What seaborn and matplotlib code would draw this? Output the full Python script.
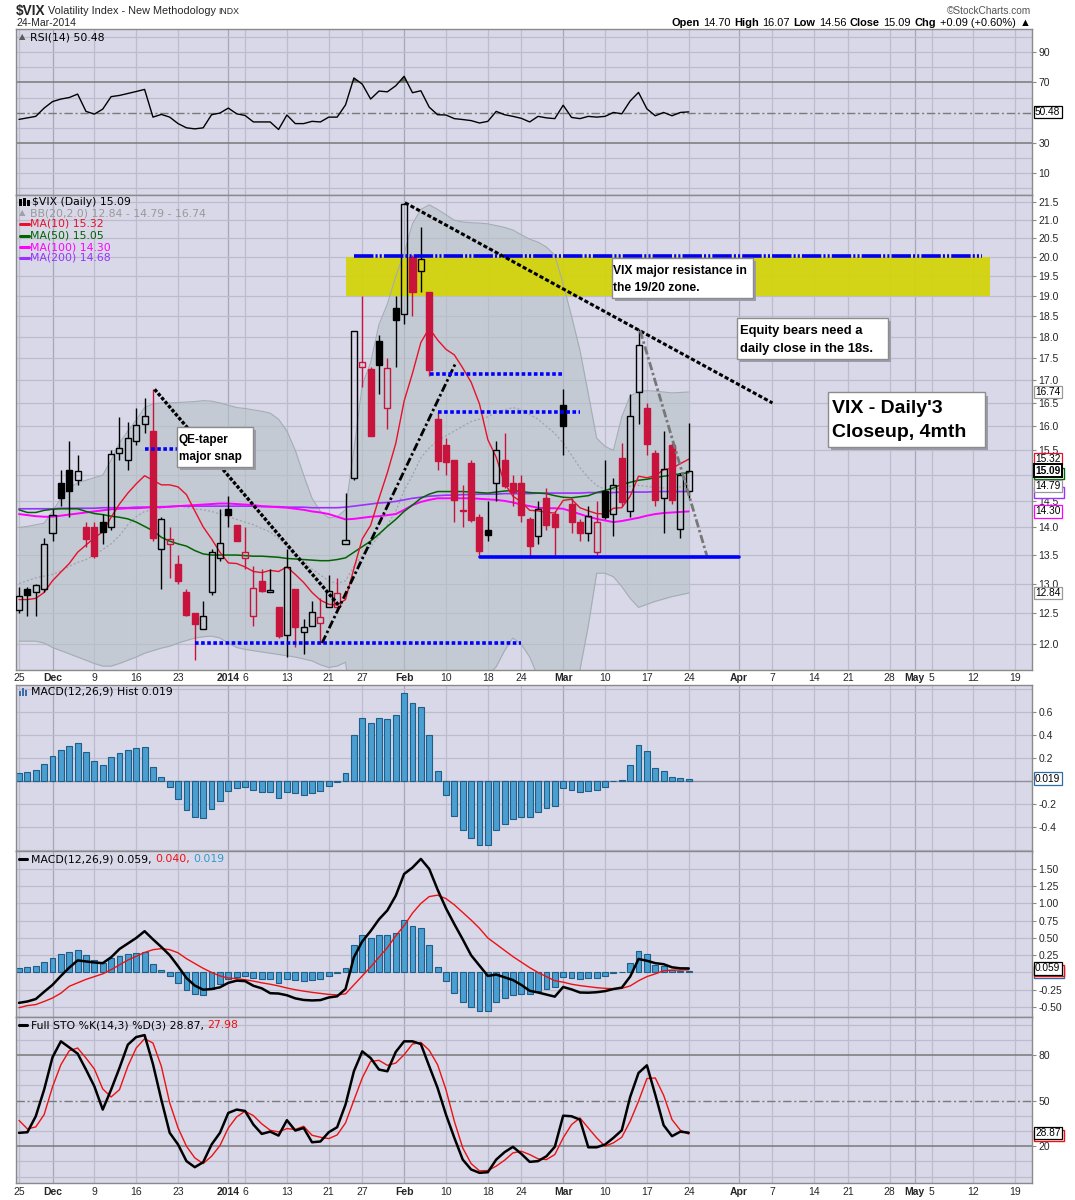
import numpy as np
import pandas as pd
import matplotlib
matplotlib.use("Agg")
import matplotlib.pyplot as plt
import matplotlib.ticker as mticker
import matplotlib.transforms as mtransforms
from matplotlib.patches import Rectangle
from matplotlib.lines import Line2D
import seaborn as sns

sns.set_theme(style="white")
plt.rcParams['font.family'] = ['Liberation Sans', 'DejaVu Sans']
plt.rcParams['lines.scale_dashes'] = False

# --- DATA (trading-day index 0 = 25-Nov-2013 ... 80 = 24-Mar-2014) ---
prev_close = 12.26
opens = [12.55, 12.90, 12.85, 12.90, 13.90, 14.85, 15.10, 14.90, 14.00, 14.00,
         14.10, 14.00, 15.45, 15.30, 15.70, 16.05, 15.90, 13.60, 13.70, 13.35,
         12.85, 12.50, 12.25, 12.85, 13.45, 14.35, 14.05, 13.45, 12.45, 13.05,
         12.86, 12.60, 12.15, 12.90, 12.20, 12.30, 12.35, 12.60, 12.60, 13.70,
         14.95, 17.30, 17.25, 17.90, 16.40, 18.70, 18.55, 20.00, 19.65, 19.10,
         16.15, 15.60, 15.30, 14.33, 15.25, 14.20, 13.95, 14.85, 15.30, 14.85,
         14.85, 14.15, 13.85, 14.55, 14.25, 16.45, 14.45, 14.10, 13.90, 13.55,
         14.70, 14.25, 15.35, 14.30, 16.75, 16.40, 15.45, 14.55, 15.60, 13.97, 14.70]
highs = [12.95, 12.95, 13.00, 13.80, 14.35, 15.10, 15.70, 15.40, 14.10, 14.10,
         14.25, 15.50, 16.20, 16.10, 16.40, 16.60, 16.80, 14.20, 14.00, 13.50,
         12.90, 12.50, 12.70, 13.60, 14.35, 14.60, 14.05, 14.00, 13.30, 13.25,
         13.25, 12.60, 13.60, 12.90, 12.40, 12.70, 12.75, 13.15, 13.10, 14.65,
         18.15, 19.00, 17.30, 18.05, 17.50, 19.00, 21.48, 20.05, 20.80, 19.10,
         16.30, 15.75, 15.30, 14.80, 15.30, 14.25, 14.50, 15.70, 15.85, 15.00,
         15.00, 14.20, 14.50, 14.75, 14.30, 16.80, 14.55, 14.15, 14.40, 14.50,
         15.30, 14.95, 15.65, 16.70, 18.20, 16.50, 15.50, 15.90, 15.65, 15.05, 16.07]
lows = [12.50, 12.45, 12.45, 12.85, 13.75, 14.40, 14.20, 14.80, 13.65, 13.45,
        13.70, 13.95, 15.30, 15.10, 15.60, 15.85, 13.75, 12.90, 13.10, 13.00,
        12.45, 11.75, 12.25, 12.80, 13.40, 14.00, 13.75, 13.25, 12.30, 12.85,
        12.85, 12.10, 11.80, 11.95, 11.85, 12.30, 12.00, 12.60, 12.55, 13.70,
        14.90, 16.85, 15.80, 16.70, 15.95, 17.30, 18.30, 18.50, 19.10, 17.10,
        15.10, 15.00, 14.10, 14.00, 14.10, 13.50, 13.75, 14.50, 14.75, 14.40,
        14.10, 13.45, 13.70, 13.95, 13.50, 15.40, 13.90, 13.75, 13.75, 13.50,
        14.15, 13.85, 14.40, 14.20, 16.05, 15.40, 14.40, 13.90, 14.45, 13.80, 14.56]
closes = [12.79, 12.81, 12.98, 13.70, 14.23, 14.55, 14.70, 15.08, 13.79, 13.49,
          13.91, 15.42, 15.54, 15.76, 16.03, 16.21, 13.80, 14.15, 13.79, 13.04,
          12.48, 12.33, 12.46, 13.56, 13.72, 14.23, 13.76, 13.55, 12.92, 12.87,
          12.89, 12.14, 13.28, 12.28, 12.28, 12.53, 12.44, 12.87, 12.84, 13.77,
          18.14, 17.42, 15.80, 17.35, 17.29, 18.41, 21.44, 19.11, 19.95, 17.23,
          15.29, 15.26, 14.51, 14.30, 14.14, 13.57, 13.87, 15.50, 14.79, 14.68,
          14.23, 13.67, 14.35, 14.04, 14.00, 16.00, 14.10, 13.89, 14.21, 14.11,
          14.20, 14.80, 14.47, 16.22, 17.82, 15.64, 14.52, 15.12, 14.52, 15.00, 15.09]

bb_upper = [14.0, 14.02, 14.05, 14.08, 14.3, 14.55, 14.75, 14.85, 14.9, 14.95,
            15.0, 15.3, 15.65, 15.9, 16.13, 16.4, 16.48, 16.5, 16.5, 16.51,
            16.52, 16.53, 16.55, 16.54, 16.5, 16.45, 16.4, 16.38, 16.35, 16.32,
            16.28, 16.15, 15.9, 15.5, 15.0, 14.55, 14.3, 14.18, 14.2, 14.33,
            15.5, 16.9, 17.4, 18.3, 18.8, 19.5, 20.1, 20.9, 21.3, 21.43,
            21.3, 21.15, 21.0, 20.95, 20.93, 20.92, 20.9, 20.85, 20.8, 20.73,
            20.6, 20.48, 20.4, 20.27, 20.05, 19.3, 18.5, 17.69, 16.7, 15.75,
            15.58, 15.5, 16.2, 16.65, 16.75, 16.77, 16.76, 16.74, 16.72, 16.73, 16.74]
bb_lower = [12.05, 12.05, 12.05, 12.02, 11.95, 11.9, 11.85, 11.8, 11.75, 11.7,
            11.66, 11.66, 11.7, 11.75, 11.8, 11.86, 11.9, 11.94, 11.97, 12.02,
            12.06, 12.1, 12.12, 12.13, 12.1, 12.02, 11.95, 11.92, 11.9, 11.88,
            11.86, 11.84, 11.82, 11.8, 11.77, 11.74, 11.68, 11.64, 11.66, 11.72,
            10.8, 10.3, 10.1, 9.9, 9.8, 9.7, 9.5, 9.6, 9.7, 9.9,
            10.2, 10.5, 10.8, 11.0, 11.2, 11.4, 11.52, 11.65, 11.9, 12.1,
            12.0, 11.8, 11.5, 11.3, 11.2, 11.1, 11.3, 11.6, 12.3, 13.18,
            13.18, 13.12, 12.95, 12.75, 12.6, 12.65, 12.7, 12.74, 12.78, 12.81, 12.84]
bb_mid = [13.0, 13.05, 13.1, 13.13, 13.16, 13.22, 13.3, 13.37, 13.42, 13.5,
          13.6, 13.7, 13.85, 14.05, 14.2, 14.3, 14.33, 14.36, 14.4, 14.4,
          14.38, 14.35, 14.33, 14.3, 14.25, 14.2, 14.15, 14.1, 14.05, 13.98,
          13.92, 13.8, 13.65, 13.52, 13.4, 13.25, 13.15, 13.05, 13.0, 13.05,
          13.3, 13.5, 13.65, 13.85, 14.05, 14.3, 14.7, 15.0, 15.35, 15.55,
          15.7, 15.8, 15.9, 16.0, 16.1, 16.15, 16.2, 16.3, 16.35, 16.4,
          16.35, 16.25, 16.15, 16.0, 15.85, 15.65, 15.4, 15.15, 14.95, 14.8,
          14.72, 14.72, 14.75, 14.78, 14.8, 14.78, 14.76, 14.75, 14.75, 14.77, 14.79]
ma10 = [12.73, 12.73, 12.75, 12.85, 13.05, 13.20, 13.35, 13.55, 13.68, 13.81,
        13.92, 14.19, 14.44, 14.65, 14.83, 14.99, 14.90, 14.81, 14.81, 14.77,
        14.62, 14.31, 14.01, 13.79, 13.55, 13.36, 13.35, 13.29, 13.21, 13.19,
        13.23, 13.21, 13.29, 13.16, 13.02, 12.85, 12.72, 12.65, 12.64, 12.73,
        13.26, 13.79, 14.04, 14.55, 15.05, 15.64, 16.54, 17.16, 17.87, 18.21,
        17.93, 17.71, 17.58, 17.28, 16.96, 16.48, 15.72, 15.36, 14.84, 14.59,
        14.48, 14.32, 14.31, 14.28, 14.27, 14.51, 14.53, 14.37, 14.31, 14.26,
        14.25, 14.36, 14.37, 14.59, 14.98, 14.95, 14.99, 15.11, 15.14, 15.23, 15.32]
ma50 = [14.33, 14.28, 14.28, 14.32, 14.34, 14.35, 14.35, 14.35, 14.3, 14.26,
        14.24, 14.21, 14.19, 14.16, 14.1, 14.02, 13.94, 13.82, 13.75, 13.7,
        13.66, 13.58, 13.52, 13.5, 13.5, 13.5, 13.5, 13.49, 13.48, 13.48,
        13.47, 13.46, 13.44, 13.43, 13.42, 13.41, 13.4, 13.4, 13.42, 13.45,
        13.55, 13.65, 13.75, 13.88, 14.02, 14.15, 14.3, 14.42, 14.55, 14.63,
        14.68, 14.68, 14.68, 14.68, 14.67, 14.66, 14.65, 14.67, 14.69, 14.7,
        14.68, 14.66, 14.65, 14.64, 14.6, 14.57, 14.56, 14.58, 14.6, 14.66,
        14.7, 14.75, 14.82, 14.86, 14.9, 14.92, 14.95, 14.98, 15.0, 15.03, 15.05]
ma100 = [14.25, 14.23, 14.21, 14.2, 14.2, 14.22, 14.24, 14.26, 14.28, 14.3,
         14.32, 14.34, 14.35, 14.36, 14.36, 14.37, 14.38, 14.38, 14.39, 14.4,
         14.41, 14.42, 14.43, 14.44, 14.45, 14.45, 14.44, 14.43, 14.42, 14.4,
         14.39, 14.38, 14.37, 14.35, 14.33, 14.3, 14.28, 14.25, 14.2, 14.15,
         14.16, 14.18, 14.2, 14.21, 14.23, 14.25, 14.33, 14.42, 14.48, 14.52,
         14.55, 14.55, 14.55, 14.55, 14.55, 14.54, 14.53, 14.52, 14.5, 14.47,
         14.43, 14.4, 14.37, 14.36, 14.36, 14.35, 14.3, 14.25, 14.2, 14.16,
         14.13, 14.1, 14.12, 14.15, 14.18, 14.22, 14.25, 14.27, 14.28, 14.29, 14.30]
ma200 = [14.35, 14.35, 14.35, 14.35, 14.35, 14.36, 14.36, 14.36, 14.36, 14.36,
         14.37, 14.37, 14.37, 14.37, 14.38, 14.38, 14.38, 14.39, 14.39, 14.4,
         14.4, 14.4, 14.4, 14.4, 14.4, 14.4, 14.4, 14.4, 14.4, 14.39,
         14.39, 14.39, 14.38, 14.38, 14.38, 14.37, 14.37, 14.37, 14.37, 14.38,
         14.4, 14.42, 14.44, 14.46, 14.47, 14.49, 14.52, 14.55, 14.57, 14.59,
         14.6, 14.61, 14.61, 14.62, 14.62, 14.63, 14.63, 14.63, 14.64, 14.64,
         14.64, 14.64, 14.65, 14.65, 14.65, 14.65, 14.65, 14.65, 14.66, 14.66,
         14.66, 14.66, 14.67, 14.67, 14.67, 14.67, 14.68, 14.68, 14.68, 14.68, 14.68]

rsi = [45.5, 46.5, 47.5, 53.0, 57.3, 59.0, 60.0, 62.3, 50.8, 49.0,
       52.3, 60.6, 61.4, 62.7, 64.0, 65.4, 47.0, 48.8, 47.0, 42.7,
       39.9, 39.2, 39.9, 48.6, 49.7, 53.0, 49.2, 48.1, 43.8, 43.8,
       43.8, 38.8, 48.4, 42.7, 42.7, 44.2, 43.8, 47.0, 47.0, 55.1,
       73.0, 68.9, 59.0, 64.3, 63.8, 67.8, 74.1, 63.2, 64.5, 53.6,
       48.6, 48.4, 46.0, 45.4, 44.7, 43.1, 44.2, 50.8, 48.6, 47.5,
       46.2, 43.8, 47.5, 46.5, 46.0, 54.9, 46.8, 46.0, 47.5, 47.0,
       47.5, 50.1, 49.2, 57.7, 63.4, 52.5, 47.9, 50.1, 47.9, 50.1, 50.48]
macd_hist = [0.067, 0.075, 0.096, 0.145, 0.214, 0.267, 0.301, 0.328, 0.249, 0.174,
             0.136, 0.206, 0.241, 0.270, 0.284, 0.293, 0.119, 0.032, -0.058, -0.159,
             -0.255, -0.319, -0.325, -0.246, -0.174, -0.090, -0.064, -0.052, -0.084, -0.101,
             -0.101, -0.151, -0.099, -0.107, -0.128, -0.107, -0.090, -0.049, -0.012, 0.067,
             0.397, 0.545, 0.501, 0.545, 0.536, 0.571, 0.762, 0.675, 0.641, 0.397,
             0.084, -0.125, -0.304, -0.426, -0.496, -0.557, -0.557, -0.426, -0.374, -0.333,
             -0.319, -0.319, -0.270, -0.241, -0.217, -0.067, -0.081, -0.101, -0.087, -0.078,
             -0.058, -0.006, 0.009, 0.136, 0.310, 0.261, 0.113, 0.087, 0.032, 0.026, 0.019]
macd_line = [-0.44, -0.42, -0.385, -0.28, -0.18, -0.05, 0.07, 0.175, 0.16, 0.145,
             0.135, 0.22, 0.34, 0.42, 0.5, 0.598, 0.48, 0.37, 0.25, 0.09,
             -0.08, -0.19, -0.25, -0.24, -0.215, -0.15, -0.118, -0.125, -0.193, -0.23,
             -0.3, -0.305, -0.33, -0.375, -0.398, -0.405, -0.40, -0.362, -0.345, -0.24,
             0.22, 0.45, 0.6, 0.77, 0.9, 1.112, 1.427, 1.52, 1.645, 1.5,
             1.2, 0.93, 0.7, 0.48, 0.25, 0.1, -0.05, -0.03, -0.07, -0.11,
             -0.18, -0.265, -0.29, -0.32, -0.35, -0.21, -0.245, -0.29, -0.293, -0.286,
             -0.27, -0.24, -0.22, -0.06, 0.195, 0.17, 0.135, 0.12, 0.075, 0.06, 0.059]
macd_signal = [-0.51, -0.48, -0.465, -0.42, -0.37, -0.3, -0.2, -0.15, -0.1, -0.06,
               -0.02, 0.04, 0.11, 0.18, 0.235, 0.29, 0.33, 0.346, 0.33, 0.285,
               0.2, 0.13, 0.06, 0.0, -0.05, -0.08, -0.09, -0.105, -0.125, -0.15,
               -0.17, -0.195, -0.225, -0.25, -0.27, -0.288, -0.303, -0.318, -0.325, -0.31,
               -0.18, -0.05, 0.08, 0.22, 0.36, 0.53, 0.68, 0.86, 1.0, 1.1,
               1.12, 1.07, 0.98, 0.87, 0.76, 0.64, 0.5, 0.41, 0.32, 0.23,
               0.15, 0.07, 0.0, -0.06, -0.12, -0.14, -0.17, -0.19, -0.205, -0.22,
               -0.23, -0.235, -0.23, -0.195, -0.12, -0.06, -0.02, 0.025, 0.035, 0.035, 0.04]
sto_k = [28.8, 29.2, 39.7, 57.2, 78.5, 89.0, 85.0, 80.9, 70.4, 59.4,
         44.1, 57.2, 71.5, 86.8, 91.8, 93.1, 74.0, 50.6, 28.8, 21.1,
         10.2, 6.2, 9.5, 21.1, 28.8, 41.9, 44.1, 43.2, 34.2, 28.1,
         29.6, 27.0, 37.1, 30.3, 32.0, 22.6, 23.1, 29.2, 32.5, 47.4,
         69.3, 82.4, 78.0, 70.4, 69.3, 82.0, 89.0, 89.0, 87.2, 72.6,
         58.3, 40.8, 25.5, 11.2, 4.7, 2.5, 2.9, 11.2, 16.1, 19.6,
         15.0, 9.7, 10.2, 13.4, 19.6, 40.1, 39.7, 37.5, 19.3, 19.3,
         21.1, 25.5, 30.5, 52.4, 68.2, 73.2, 53.9, 33.8, 26.6, 29.6, 28.87]
sto_d = [37.0, 31.4, 32.7, 40.8, 59.0, 73.6, 82.8, 84.6, 78.0, 70.8,
         57.7, 52.4, 57.2, 72.6, 84.6, 90.7, 87.9, 72.6, 48.5, 32.0,
         20.0, 12.3, 8.6, 13.4, 20.4, 32.0, 39.3, 43.0, 40.1, 34.7,
         30.5, 29.4, 31.6, 31.0, 33.1, 27.2, 25.9, 25.0, 27.4, 35.3,
         50.2, 64.9, 75.8, 76.5, 73.2, 74.7, 80.2, 87.2, 88.3, 83.1,
         73.6, 57.2, 36.4, 18.9, 8.6, 3.8, 4.0, 6.9, 10.8, 15.6,
         16.7, 14.5, 11.7, 11.2, 14.5, 25.5, 34.2, 38.6, 32.0, 25.5,
         20.0, 22.2, 25.9, 36.4, 49.6, 64.5, 64.9, 53.5, 37.5, 30.5, 27.98]

tick_idx = [0, 4, 9, 14, 19, 25, 27, 32, 37, 41, 46, 51, 56, 60, 65, 70, 75, 80,
            86, 90, 95, 99, 104, 107, 109, 114, 119]
tick_lbl = ['25', 'Dec', '9', '16', '23', '2014', '6', '13', '21', '27', 'Feb', '10',
            '18', '24', 'Mar', '10', '17', '24', 'Apr', '7', '14', '21', '28', 'May',
            '5', '12', '19']
month_lbl = {'Dec', '2014', 'Feb', 'Mar', 'Apr', 'May'}

df = pd.DataFrame({'open': opens, 'high': highs, 'low': lows, 'close': closes,
                   'upper': bb_upper, 'lower': bb_lower, 'mid': bb_mid,
                   'ma10': ma10, 'ma50': ma50, 'ma100': ma100, 'ma200': ma200,
                   'rsi': rsi, 'hist': macd_hist, 'macd': macd_line, 'signal': macd_signal,
                   'k': sto_k, 'd': sto_d})
df['idx'] = np.arange(len(df))

# --- STYLE ---
BG = '#D8D8E8'
GRID = '#BCBCCE'
GRID_M = '#A6A6BA'
SPINE = '#8A8A8A'
RED = '#C8143C'
BAR = '#4A9FD0'
BAR_E = '#1F5E88'
W, H = 1075, 1200

fig = plt.figure(figsize=(W / 100, H / 100), dpi=100)
fig.patch.set_facecolor('white')


def rect(top, bot):
    return [16 / W, 1 - bot / H, 1016 / W, (bot - top) / H]


def base(ax, show_x=False, pad=2):
    ax.set_facecolor(BG)
    ax.set_xlim(-0.36, 121.0)
    for s in ax.spines.values():
        s.set_color(SPINE)
        s.set_linewidth(1)
    ax.yaxis.tick_right()
    ax.tick_params(axis='y', which='major', length=3, width=0.8, color=SPINE,
                   pad=1.5, labelsize=7.5)
    ax.tick_params(axis='y', which='minor', length=0)
    ax.set_xticks(tick_idx)
    if show_x:
        ax.set_xticklabels(tick_lbl)
        for t in ax.get_xticklabels():
            if t.get_text() in month_lbl:
                t.set_fontweight('bold')
        ax.tick_params(axis='x', length=0, pad=pad, labelsize=7.5)
    else:
        ax.tick_params(axis='x', length=0, labelbottom=False)
    for i, lbl in zip(tick_idx, tick_lbl):
        ax.axvline(i, color=GRID_M if lbl in month_lbl else GRID, lw=0.9, zorder=0.5)


def hgrid(ax, vals, color=GRID, lw=0.9, **kw):
    for v in vals:
        ax.axhline(v, color=color, lw=lw, zorder=0.6, **kw)


def blend(ax):
    return mtransforms.blended_transform_factory(ax.transAxes, ax.transData)


def tag(ax, y, s, ec, bold=False, lw=0.9):
    ax.text(1.003, y, s, transform=blend(ax), fontsize=7.3, va='center', ha='left',
            fontweight='bold' if bold else 'normal', color='black', zorder=10,
            clip_on=False, bbox=dict(boxstyle='square,pad=0.12', fc='white', ec=ec, lw=lw))


def hidden_tag(ax, y, ec):
    # value box that sits behind a neighbouring one: only its frame peeks out
    x_d = ax.transAxes.transform((1.0, 0))[0] + 2
    y_d = ax.transData.transform((0, y))[1]
    ax.add_patch(Rectangle((x_d, y_d - 5.5), 30, 11, transform=mtransforms.IdentityTransform(),
                           fc='white', ec=ec, lw=1.0, zorder=9, clip_on=False))


def seq(x, y, parts, size=7.8, family=('DejaVu Sans',), gap=3.5, weights=None):
    r = fig.canvas.get_renderer()
    for n, (s, col) in enumerate(parts):
        wgt = weights[n] if weights else 'normal'
        t = fig.text(x / W, 1 - y / H, s, color=col, fontsize=size, family=list(family),
                     va='center', ha='left', fontweight=wgt)
        x += t.get_window_extent(r).width + gap


def fig_line(x0, x1, y, color, lw=2.2):
    fig.add_artist(Line2D([x0 / W, x1 / W], [1 - y / H, 1 - y / H], color=color, lw=lw))


def clear_labels(ax):
    ax.set_xlabel('')
    ax.set_ylabel('')


# --- RSI PANEL ---
ax_r = fig.add_axes(rect(29, 195))
base(ax_r)
ax_r.set_ylim(-4.7, 105.5)
hgrid(ax_r, [0, 10, 20, 40, 60, 80, 90, 100])
ax_r.axhline(70, color='#7A7A7A', lw=1.1, zorder=0.7)
ax_r.axhline(30, color='#7A7A7A', lw=1.1, zorder=0.7)
ax_r.axhline(50, color='#7A7A7A', lw=1.0, zorder=0.7, dashes=(6, 2, 1.5, 2))
ax_r.fill_between(df['idx'], df['rsi'], 70, where=df['rsi'] > 70, interpolate=True,
                  color='#5C6B5C', lw=0, zorder=1.5)
sns.lineplot(data=df, x='idx', y='rsi', ax=ax_r, color='black', linewidth=1.0, legend=False)
clear_labels(ax_r)
ax_r.set_yticks([10, 30, 70, 90])
ax_r.set_yticklabels(['10', '30', '70', '90'])
tag(ax_r, 50.48, '50.48', 'black')

# --- PRICE PANEL ---
ax_p = fig.add_axes(rect(195, 670))
base(ax_p, show_x=True, pad=2)
ax_p.set_yscale('log')
ax_p.set_ylim(11.60, 21.71)
pticks = [12.0 + 0.5 * i for i in range(20)]
ax_p.yaxis.set_major_locator(mticker.FixedLocator(pticks))
ax_p.yaxis.set_major_formatter(mticker.FixedFormatter(
    ['' if abs(v - 15.0) < 1e-6 else f'{v:.1f}' for v in pticks]))
ax_p.yaxis.set_minor_locator(mticker.NullLocator())
ax_p.yaxis.set_minor_formatter(mticker.NullFormatter())
hgrid(ax_p, pticks)

# Bollinger band
ax_p.fill_between(df['idx'], df['lower'], df['upper'], color='#B6C2C6', alpha=0.6,
                  lw=0, zorder=1)
sns.lineplot(data=df, x='idx', y='upper', ax=ax_p, color='#A4ACB4', linewidth=0.8, legend=False)
sns.lineplot(data=df, x='idx', y='lower', ax=ax_p, color='#A4ACB4', linewidth=0.8, legend=False)
ax_p.plot(df['idx'], df['mid'], color='#A2A2AC', lw=0.9, dashes=(1.5, 1.5), zorder=1.2)

# yellow resistance zone
ax_p.add_patch(Rectangle((39.1, 19.0), 116.0 - 39.1, 1.0, fc='#D3D30D', ec='none',
                         alpha=0.95, zorder=1.6))

# moving averages
sns.lineplot(data=df, x='idx', y='ma200', ax=ax_p, color='#9B30FF', linewidth=1.2, legend=False)
sns.lineplot(data=df, x='idx', y='ma100', ax=ax_p, color='#FF00FF', linewidth=1.4, legend=False)
sns.lineplot(data=df, x='idx', y='ma50', ax=ax_p, color='#006400', linewidth=1.1, legend=False)
sns.lineplot(data=df, x='idx', y='ma10', ax=ax_p, color='#E8102A', linewidth=1.0, legend=False)
clear_labels(ax_p)

# candles
o = df['open'].to_numpy()
c = df['close'].to_numpy()
prev = np.r_[prev_close, c[:-1]]
col = np.where(c >= prev, 'black', RED)
lo_b = np.minimum(o, c)
hi_b = np.maximum(o, c)
ax_p.vlines(df['idx'], df['low'], lo_b, colors=col, lw=1, zorder=3)
ax_p.vlines(df['idx'], hi_b, df['high'], colors=col, lw=1, zorder=3)
face = ['none' if c[i] >= o[i] else col[i] for i in range(len(c))]
ax_p.bar(df['idx'], np.maximum(hi_b - lo_b, 0.01), bottom=lo_b, width=0.72, color=face,
         edgecolor=col, linewidth=1, zorder=3.2)
ax_p.set_ylim(11.60, 21.71)

# trend lines and levels
ax_p.plot([40.0, 115.0], [20.02, 20.02], color='#0000EE', lw=2.6,
          dashes=(14, 1.5, 1.5, 1.5, 1.5, 1.5), zorder=4)
ax_p.plot([46.1, 90.0], [21.49, 16.5], color='black', lw=2.2, dashes=(3, 1.6), zorder=4)
ax_p.plot([16.2, 38.4], [16.8, 12.6], color='black', lw=2.4, dashes=(2.5, 1.3), zorder=4)
ax_p.plot([36.2, 52.1], [12.02, 17.37], color='black', lw=2.0, dashes=(6, 2, 1.8, 2), zorder=4)
ax_p.plot([74.2, 82.2], [18.15, 13.47], color='#777777', lw=2.0, dashes=(6, 2, 1.8, 2), zorder=4)
ax_p.plot([55.1, 86.0], [13.47, 13.47], color='#0000FF', lw=2.6, zorder=4)
for x0, x1, y in [(15.0, 19.5, 15.53), (21.0, 60.0, 12.02), (49.1, 65.0, 17.14), (50.1, 67.0, 16.3)]:
    ax_p.plot([x0, x1], [y, y], color='#0000FF', lw=2.6, dashes=(2.6, 1.8), zorder=4)


def note(x0, x1, ytop, ybot, lines, ys, xt, size):
    ax_p.add_patch(Rectangle((x0 + 0.36, ybot * 0.996), x1 - x0, (ytop - ybot) * 0.996,
                             fc='#9C9CA8', ec='none', zorder=5.8))
    ax_p.add_patch(Rectangle((x0, ybot), x1 - x0, ytop - ybot, fc='white', ec='#8C8C8C',
                             lw=1, zorder=5.9))
    for s, y in zip(lines, ys):
        ax_p.text(xt, y, s, fontsize=size, fontweight='bold', va='center', ha='left',
                  color='black', zorder=6, family=['Liberation Sans', 'DejaVu Sans'])


note(18.88, 27.96, 15.98, 15.16, ['QE-taper', 'major snap'], [15.71, 15.37], 19.1, 8.5)
note(70.8, 87.73, 19.97, 18.94, ['VIX major resistance in', 'the 19/20 zone.'],
     [19.64, 19.21], 71.0, 8.7)
note(85.74, 103.85, 18.46, 17.48, ['Equity bears need a', 'daily close in the 18s.'],
     [18.15, 17.72], 86.1, 9.4)
note(96.69, 115.33, 16.73, 15.57, ["VIX - Daily'3", 'Closeup, 4mth'], [16.38, 15.87], 97.1, 14)

hidden_tag(ax_p, 14.66, '#9B30FF')
hidden_tag(ax_p, 15.04, '#006400')
for y, s, ec in [(12.84, '12.84', '#999999'), (14.30, '14.30', '#FF00FF'),
                 (14.79, '14.79', '#999999'), (15.32, '15.32', '#E8102A'),
                 (16.74, '16.74', '#999999')]:
    tag(ax_p, y, s, ec)
tag(ax_p, 15.09, '15.09', 'black', bold=True, lw=1.4)

# --- MACD HISTOGRAM PANEL ---
ax_h = fig.add_axes(rect(685, 851))
base(ax_h)
ax_h.set_ylim(-0.611, 0.832)
hgrid(ax_h, [-0.6, -0.4, -0.2, 0.2, 0.4, 0.6, 0.8])
ax_h.axhline(0, color='#8E8E9E', lw=1.0, zorder=0.7)
ax_h.bar(df['idx'], df['hist'], width=0.7, color=BAR, edgecolor=BAR_E, linewidth=0.8, zorder=2)
ax_h.set_yticks([-0.4, -0.2, 0.2, 0.4, 0.6])
ax_h.set_yticklabels(['-0.4', '-0.2', '0.2', '0.4', '0.6'])
tag(ax_h, 0.019, '0.019', '#2E6AA8')

# --- MACD PANEL ---
ax_m = fig.add_axes(rect(851, 1017))
base(ax_m)
ax_m.set_ylim(-0.645, 1.76)
mt = [-0.5, -0.25, 0.25, 0.5, 0.75, 1.0, 1.25, 1.5]
hgrid(ax_m, mt + [0.0])
ax_m.bar(df['idx'], df['hist'], width=0.7, color=BAR, edgecolor=BAR_E, linewidth=0.8, zorder=2)
sns.lineplot(data=df, x='idx', y='signal', ax=ax_m, color='#EE1111', linewidth=1.0, legend=False)
sns.lineplot(data=df, x='idx', y='macd', ax=ax_m, color='black', linewidth=1.8, legend=False)
clear_labels(ax_m)
ax_m.set_ylim(-0.645, 1.76)
ax_m.set_yticks(mt)
ax_m.set_yticklabels([f'{v:.2f}' for v in mt])
hidden_tag(ax_m, 0.004, '#2E6AA8')
hidden_tag(ax_m, 0.030, '#EE1111')
tag(ax_m, 0.059, '0.059', 'black')

# --- STOCHASTIC PANEL ---
ax_s = fig.add_axes(rect(1017, 1183))
base(ax_s, show_x=True, pad=3)
ax_s.set_ylim(-4.2, 105.0)
hgrid(ax_s, [0, 10, 30, 40, 60, 70, 90, 100])
ax_s.axhline(80, color='#7A7A7A', lw=1.1, zorder=0.7)
ax_s.axhline(20, color='#7A7A7A', lw=1.1, zorder=0.7)
ax_s.axhline(50, color='#7A7A7A', lw=1.0, zorder=0.7, dashes=(6, 2, 1.5, 2))
sns.lineplot(data=df, x='idx', y='d', ax=ax_s, color='#EE1111', linewidth=1.0, legend=False)
sns.lineplot(data=df, x='idx', y='k', ax=ax_s, color='black', linewidth=1.8, legend=False)
clear_labels(ax_s)
ax_s.set_yticks([20, 50, 80])
ax_s.set_yticklabels(['20', '50', '80'])
hidden_tag(ax_s, 27.3, '#EE1111')
tag(ax_s, 28.87, '28.87', 'black')

# --- HEADER ---
hf = ('Liberation Sans', 'DejaVu Sans')
fig.text(16 / W, 1 - 11.5 / H, '$VIX', fontsize=9.8, fontweight='bold', va='center',
         family=list(hf))
fig.text(48.5 / W, 1 - 11.5 / H, 'Volatility Index - New Methodology', fontsize=7.8,
         va='center', family=list(hf))
fig.text(218.5 / W, 1 - 12 / H, 'INDX', fontsize=6.3, va='center', family=list(hf))
fig.text(16 / W, 1 - 23.5 / H, '24-Mar-2014', fontsize=7.5, va='center', family=list(hf))
fig.text(1031 / W, 1 - 11.5 / H, '\u00a9StockCharts.com', fontsize=7.3, va='center',
         ha='right', color='#555555', family=list(hf))
hdr = [('Open', 'black'), ('14.70', 'black'), ('High', 'black'), ('16.07', 'black'),
       ('Low', 'black'), ('14.56', 'black'), ('Close', 'black'), ('15.09', 'black'),
       ('Chg', 'black'), ('+0.09 (+0.60%)', 'black'), ('\u25b2', 'black')]
seq(671, 23.5, hdr, size=7.9, family=hf, gap=3.6,
    weights=['bold', 'normal'] * 5 + ['normal'])

# --- PANEL LEGENDS ---
fig.text(18.5 / W, 1 - 37 / H, '\u25b2', fontsize=6, color='#555F55', va='center',
         family=['DejaVu Sans'])
seq(30, 37, [('RSI(14) 50.48', 'black')])

fig.add_artist(Rectangle((19 / W, 1 - 206 / H), 2.5 / W, 7 / H, fc='black', ec='none'))
fig.add_artist(Rectangle((23 / W, 1 - 206 / H), 2.5 / W, 8 / H, fc='black', ec='none'))
fig.add_artist(Rectangle((27 / W, 1 - 206 / H), 2.5 / W, 6 / H, fc='black', ec='none'))
seq(32, 202, [('$VIX (Daily) 15.09', 'black')])
fig.text(18.5 / W, 1 - 213 / H, '\u25b2', fontsize=6, color='#A0A0A0', va='center',
         family=['DejaVu Sans'])
seq(29.5, 213, [('BB(20,2.0) 12.84 - 14.79 - 16.74', '#9A9A9A')])
for y, s, cc in [(224, 'MA(10) 15.32', '#E8102A'), (236, 'MA(50) 15.05', '#006400'),
                 (247, 'MA(100) 14.30', '#FF00FF'), (258, 'MA(200) 14.68', '#9B30FF')]:
    fig_line(19.5, 28.5, y, cc)
    seq(29.5, y, [(s, cc)])

for k, hh in enumerate([5, 8, 6]):
    fig.add_artist(Rectangle(((19 + 3 * k) / W, 1 - 696 / H), 2 / W, hh / H,
                             fc='#3C6EA8', ec='none'))
seq(31, 692, [('MACD(12,26,9) Hist 0.019', 'black')])

fig_line(19, 27, 859, 'black', lw=2.2)
seq(31, 859, [('MACD(12,26,9) 0.059,', 'black'), ('0.040,', '#EE1111'), ('0.019', '#3399CC')])

fig_line(19, 27, 1025, 'black', lw=2.2)
seq(31, 1025, [('Full STO %K(14,3) %D(3) 28.87,', 'black'), ('27.98', '#EE1111')])

fig.savefig('out.png', dpi=100, facecolor='white')
